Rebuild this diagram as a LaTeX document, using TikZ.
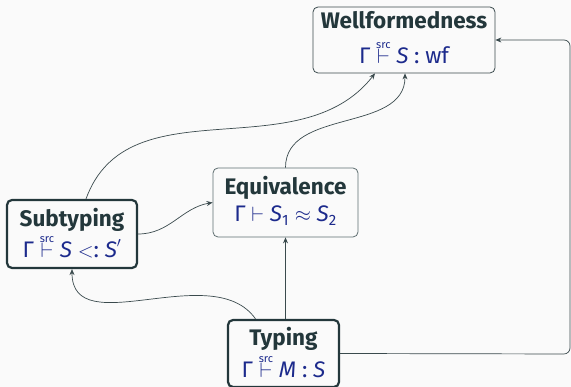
\documentclass[tikz,border=0pt]{standalone}
\usepackage{fontspec}
\setmainfont{Fira Sans}
\usetikzlibrary{arrows.meta}
\definecolor{bg}{HTML}{FAFAFA}
\definecolor{ink}{HTML}{23373B}
\definecolor{mathblue}{RGB}{28,42,140}
\definecolor{edge}{HTML}{3A4A4D}
\definecolor{softframe}{HTML}{5E6D70}
% turnstile with a small "src" tag above it
\newcommand{\srcvdash}{\mathrel{\mathop{\vdash}\limits^{\raisebox{-1.5pt}{\fontsize{11}{11}\selectfont src}}}}
\newcommand{\tv}[1]{\mbox{\itshape #1}}
\newcommand{\tx}[1]{\mbox{#1}}
\begin{document}
\begin{tikzpicture}[x=1pt,y=-1pt,
  frame/.style={rounded corners=5pt, inner sep=0pt},
  thinframe/.style={frame, draw=edge, line width=0.8pt},
  softframe/.style={frame, draw=softframe, line width=0.8pt},
  thickframe/.style={frame, draw=ink, line width=2.2pt},
  title/.style={anchor=base, inner sep=0pt, text=ink, font=\fontsize{22.5}{26}\selectfont\bfseries},
  judgement/.style={anchor=base, inner sep=0pt, text=mathblue, font=\fontsize{22.5}{26}\selectfont},
  link/.style={draw=edge, line width=0.7pt, -{Stealth[length=6pt,width=5pt]}}]
\fill[bg] (0,0) rectangle (571,387);
\useasboundingbox (0,0) rectangle (571,387);

% boxes
\node[thinframe, minimum width=182pt, minimum height=66pt] (well) at (404,40) {};
\node[softframe, minimum width=145pt, minimum height=69pt] (equiv) at (285.5,202.5) {};
\node[thickframe, minimum width=130pt, minimum height=68pt] (sub) at (72,234) {};
\node[thickframe, minimum width=111pt, minimum height=67pt] (typ) at (283.5,353.5) {};

% titles and judgements
\node[title] (wellT) at (404,29) {Wellformedness};
\node[judgement] (wellJ) at (404,64) {$\tx{Γ}\srcvdash\tv{S}\mathrel{\tx{:}}\tx{wf}$};
\node[title] (equivT) at (285.5,195) {Equivalence};
\node[judgement] (equivJ) at (285.5,222) {$\tx{Γ}\vdash\tv{S}_{\tx{\fontsize{15}{15}\selectfont 1}}\approx\tv{S}_{\tx{\fontsize{15}{15}\selectfont 2}}$};
\node[title] (subT) at (72,227) {Subtyping};
\node[judgement] (subJ) at (72,258) {$\tx{Γ}\srcvdash\tv{S}\mathrel{\mathord{<}\tx{:}}\tv{S}'$};
\node[title] (typT) at (283.5,346) {Typing};
\node[judgement] (typJ) at (283.5,378) {$\tx{Γ}\srcvdash\tv{M}\mathrel{\tx{:}}\tv{S}$};

% dependencies
\coordinate (corner) at (570,354);
\draw[link] (sub.north) ++(14,0) to[out=70,in=-128] ([xshift=-29pt]well.south);
\draw[link] (equiv.north) to[out=90,in=-90] ([xshift=1pt]well.south);
\draw[link] (sub.east) to[out=0,in=190] (equiv.west);
\draw[link] (typ.north -| equiv.south) -- (equiv.south);
\draw[link] ([xshift=-28pt]typ.north) to[out=125,in=-90] (sub.south);
\draw[link, rounded corners=6pt] (typ.east) -- (corner) |- (well.east);
\end{tikzpicture}
\end{document}
